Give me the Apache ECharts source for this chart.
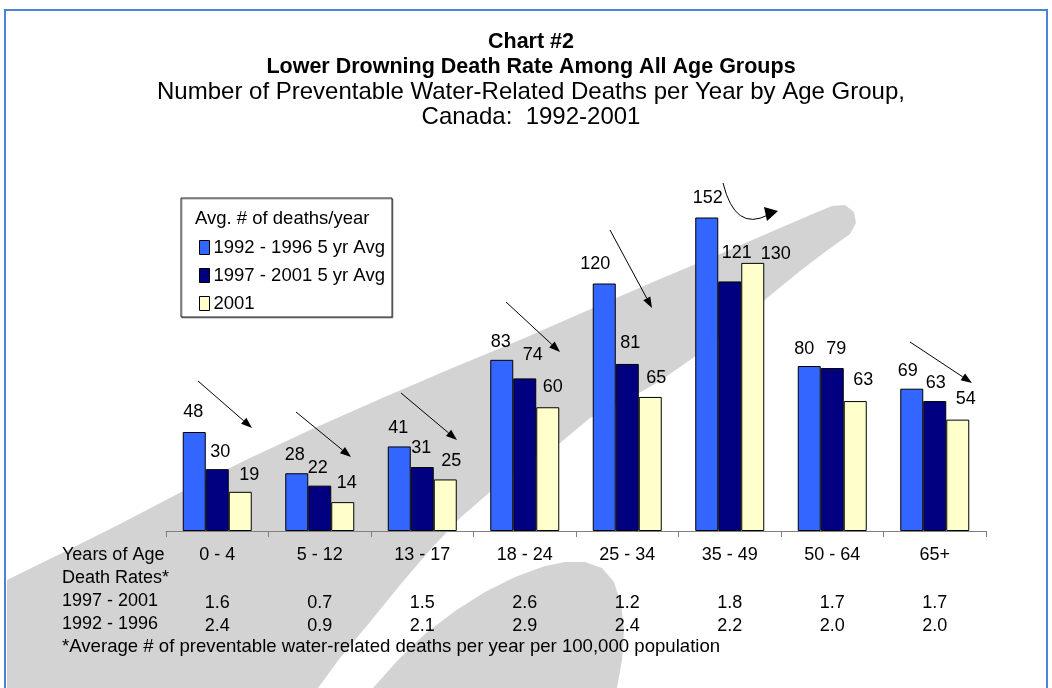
<!DOCTYPE html>
<html>
<head>
<meta charset="utf-8">
<script src="https://cdn.jsdelivr.net/npm/echarts@6/dist/echarts.min.js"></script>
<style>
  html, body { margin: 0; padding: 0; background: #fff; }
  #chart { width: 1052px; height: 688px; }
</style>
</head>
<body>
<div id="chart"></div>
<script>
// data
const categories = ['0 - 4', '5 - 12', '13 - 17', '18 - 24', '25 - 34', '35 - 49', '50 - 64', '65+'];
const avg9296 = [48, 28, 41, 83, 120, 152, 80, 69];
const avg9701 = [30, 22, 31, 74, 81, 121, 79, 63];
const y2001 = [19, 14, 25, 60, 65, 130, 63, 54];
const rate9701 = ['1.6', '0.7', '1.5', '2.6', '1.2', '1.8', '1.7', '1.7'];
const rate9296 = ['2.4', '0.9', '2.1', '2.9', '2.4', '2.2', '2.0', '2.0'];
const seriesNames = ['1992 - 1996 5 yr Avg', '1997 - 2001 5 yr Avg', '2001'];

// the value labels were nudged by hand in the original
const nudge9296 = [[-1, -2], [-2, 0], [-1, 0], [-1, 0], [-9, -1], [1, -1], [-5, 1], [-4, 0]];
const nudge9701 = [[3, 1], [-2, 0], [-1, -1], [8, -5], [3, -3], [7, -10], [4, -1], [1, 0]];
const nudge2001 = [[9, 1], [4, -1], [6, 0], [5, -2], [6, -1], [23, 9], [8, -3], [8, -3]];

const FONT = '"Liberation Sans", Arial, sans-serif';
const chart = echarts.init(document.getElementById('chart'));

function withNudge(values, nudge) {
  return values.map((v, i) => ({ value: v, label: { offset: nudge[i] } }));
}

// straight arrow: line + small filled head
function arrow(x1, y1, x2, y2) {
  const a = Math.atan2(y2 - y1, x2 - x1);
  const L = 11, W = 4;
  const bx = x2 - L * Math.cos(a), by = y2 - L * Math.sin(a);
  return [
    { type: 'line', z: 10, shape: { x1: x1, y1: y1, x2: bx, y2: by }, style: { stroke: '#000', lineWidth: 1 } },
    { type: 'polygon', z: 10, shape: { points: [[x2, y2], [bx - W * Math.sin(a), by + W * Math.cos(a)], [bx + W * Math.sin(a), by - W * Math.cos(a)]] }, style: { fill: '#000' } }
  ];
}

// background swoosh (watermark), outlines in pixels
const band = [[7, 580], [60, 554], [120, 524], [187, 489], [250, 458], [310, 430], [380, 399], [450, 369], [520, 340],
  [600, 305], [660, 279], [720, 254], [780, 228], [815, 213], [832, 206], [845, 205], [854, 212], [856, 223],
  [850, 234], [825, 252], [800, 271], [767, 298], [735, 325], [700, 353], [660, 381], [620, 404], [590, 418],
  [560, 443], [520, 468], [490, 492], [460, 518], [430, 550], [400, 585], [370, 622], [340, 658], [318, 688], [7, 688]];
const dome = [[373, 688], [398, 660], [425, 634], [455, 611], [485, 592], [515, 577], [545, 566], [565, 562],
  [585, 562], [602, 568], [614, 582], [621, 604], [624, 630], [622, 660], [617, 688]];

const textStyle = { fontFamily: FONT, fontSize: 18, fill: '#000' };
const leftLabels = [['Years of Age', 556], ['Death Rates*', 579], ['1997 - 2001', 602], ['1992 - 1996', 625]];

const graphics = [
  { type: 'polygon', z: -5, shape: { points: band }, style: { fill: '#d3d3d3' } },
  { type: 'polygon', z: -5, shape: { points: dome }, style: { fill: '#d3d3d3' } },
  { type: 'rect', z: -4, shape: { x: 5, y: 10, width: 1042, height: 700 }, style: { fill: 'none', stroke: '#4a84d4', lineWidth: 2 } },
  // legend box
  { type: 'rect', z: 0, shape: { x: 181, y: 198, width: 211, height: 119 }, style: { fill: '#fff', stroke: '#222', lineWidth: 1, shadowColor: 'rgba(0,0,0,0.35)', shadowOffsetX: 1, shadowOffsetY: 1 } },
  { type: 'text', z: 1, left: 195, top: 209, style: Object.assign({ text: 'Avg. # of deaths/year' }, textStyle, { fontSize: 18.5 }) },
  { type: 'text', z: 1, left: 62, top: 637, style: Object.assign({ text: '*Average # of preventable water-related deaths per year per 100,000 population' }, textStyle, { fontSize: 18.6 }) },
  // curved arrow over 35 - 49
  { type: 'bezierCurve', z: 10, shape: { x1: 723, y1: 183, cpx1: 735, cpy1: 232, x2: 768, y2: 215 }, style: { stroke: '#000', lineWidth: 1, fill: 'none' } },
  { type: 'polygon', z: 10, shape: { points: [[778, 211], [764, 207], [767, 221]] }, style: { fill: '#000' } }
];
leftLabels.forEach(([t, y]) => {
  graphics.push({ type: 'text', z: 1, left: 62, top: y - 10, style: Object.assign({ text: t }, textStyle) });
});
[
  [198, 381, 252, 428], [296, 412, 351, 457], [401, 393, 457, 440], [506, 302, 560, 352],
  [610, 230, 652, 308], [910, 342, 972, 383]
].forEach(p => graphics.push(...arrow(p[0], p[1], p[2], p[3])));

const barLabel = { show: true, position: 'top', distance: 9, color: '#000', fontSize: 18, fontFamily: FONT };
const barBorder = { borderColor: '#000', borderWidth: 1 };

const option = {
  animation: false,
  title: {
    left: 526,
    top: 25,
    itemGap: 0,
    textAlign: 'center',
    text: 'Chart #2\nLower Drowning Death Rate Among All Age Groups',
    subtext: 'Number of Preventable Water-Related Deaths per Year by Age Group,\nCanada:  1992-2001',
    textStyle: { fontFamily: FONT, fontSize: 21.5, fontWeight: 'bold', color: '#000', lineHeight: 25 },
    subtextStyle: { fontFamily: FONT, fontSize: 24, color: '#000', lineHeight: 25 }
  },
  legend: {
    orient: 'vertical',
    left: 199,
    top: 238,
    padding: 0,
    itemWidth: 10,
    itemHeight: 14,
    itemGap: 9,
    selectedMode: false,
    icon: 'rect',
    itemStyle: { borderColor: '#000', borderWidth: 1 },
    textStyle: { fontFamily: FONT, fontSize: 18.5, color: '#000', padding: [0, 0, 0, -1] },
    data: seriesNames
  },
  grid: { left: 166, right: 66, top: 201, bottom: 157 },
  xAxis: {
    type: 'category',
    data: categories,
    axisLine: { lineStyle: { color: '#808080', width: 1 } },
    axisTick: { show: true, length: 6, lineStyle: { color: '#808080' } },
    axisLabel: {
      interval: 0,
      margin: 13,
      formatter: (v, i) => `{c|${v}}\n{g| }\n{r|${rate9701[i]}}\n{r|${rate9296[i]}}`,
      rich: {
        c: { fontFamily: FONT, fontSize: 18, color: '#000', lineHeight: 23 },
        g: { fontSize: 10, lineHeight: 25 },
        r: { fontFamily: FONT, fontSize: 18, color: '#000', lineHeight: 23 }
      }
    }
  },
  yAxis: { type: 'value', min: 0, max: 160, show: false, splitLine: { show: false } },
  series: [
    { name: seriesNames[0], type: 'bar', barWidth: 23, barGap: '0%', data: withNudge(avg9296, nudge9296),
      itemStyle: Object.assign({ color: '#3366ff' }, barBorder), label: barLabel },
    { name: seriesNames[1], type: 'bar', barWidth: 23, barGap: '0%', data: withNudge(avg9701, nudge9701),
      itemStyle: Object.assign({ color: '#000080' }, barBorder), label: barLabel },
    { name: seriesNames[2], type: 'bar', barWidth: 23, barGap: '0%', data: withNudge(y2001, nudge2001),
      itemStyle: Object.assign({ color: '#ffffcc' }, barBorder), label: barLabel }
  ],
  graphic: graphics
};

chart.setOption(option);
</script>
</body>
</html>
